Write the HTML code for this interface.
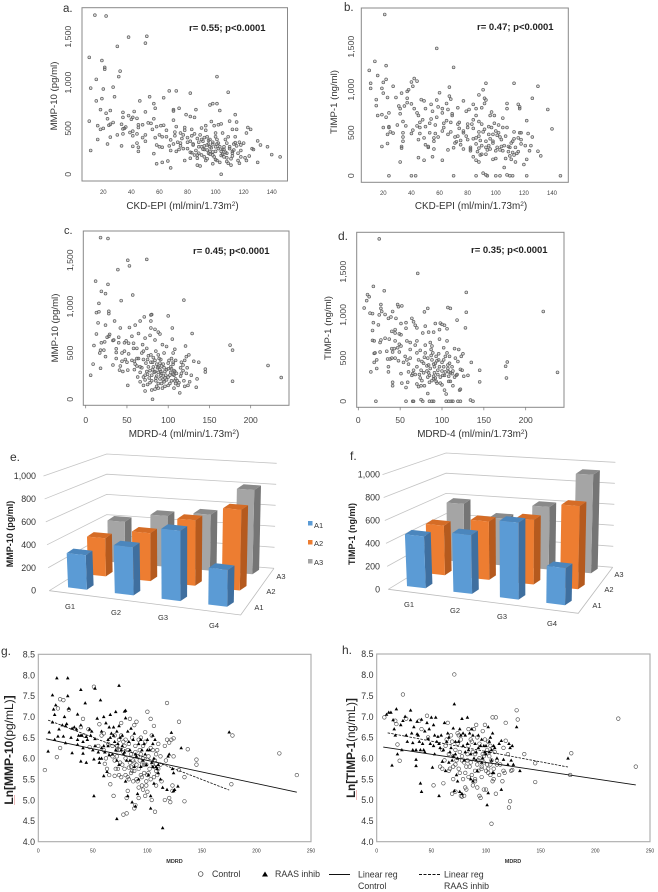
<!DOCTYPE html>
<html lang="en">
<head>
<meta charset="utf-8">
<title>MMP-10 and TIMP-1 versus kidney function</title>
<style>
html,body{margin:0;padding:0;background:#fff;width:658px;height:892px;overflow:hidden}
svg{display:block;font-family:"Liberation Sans",sans-serif}
.soft{filter:blur(0.35px)}
</style>
</head>
<body>
<svg id="figure" width="658" height="892" viewBox="0 0 658 892" xmlns="http://www.w3.org/2000/svg">
<rect width="658" height="892" fill="#fff"/>
<g id="marks" class="soft"></g>
<g class="soft" fill="#333">
<text x="63" y="12" font-size="11.5">a.</text>
<text x="344" y="11" font-size="11.5">b.</text>
<text x="64" y="234" font-size="11">c.</text>
<text x="338" y="240" font-size="12">d.</text>
<text x="10" y="461" font-size="12">e.</text>
<text x="350" y="460" font-size="12">f.</text>
<text x="1" y="655" font-size="12">g.</text>
<text x="342" y="654" font-size="12">h.</text>

<text x="189" y="31" font-size="9.5" font-weight="bold" fill="#222">r= 0.55; p&lt;0.0001</text>
<text x="477" y="30" font-size="9.5" font-weight="bold" fill="#222">r= 0.47; p&lt;0.0001</text>
<text x="193" y="254" font-size="9.5" font-weight="bold" fill="#222">r= 0.45; p&lt;0.0001</text>
<text x="471" y="253" font-size="9.5" font-weight="bold" fill="#222">r= 0.35; p&lt;0.0001</text>

<text x="182.5" y="209" font-size="9.9" text-anchor="middle">CKD-EPI (ml/min/1.73m<tspan dy="-3" font-size="6.5">2</tspan><tspan dy="3">)</tspan></text>
<text x="471" y="209" font-size="9.9" text-anchor="middle">CKD-EPI (ml/min/1.73m<tspan dy="-3" font-size="6.5">2</tspan><tspan dy="3">)</tspan></text>
<text x="184" y="437" font-size="9.9" text-anchor="middle">MDRD-4 (ml/min/1.73m<tspan dy="-3" font-size="6.5">2</tspan><tspan dy="3">)</tspan></text>
<text x="472.5" y="437" font-size="9.9" text-anchor="middle">MDRD-4 (ml/min/1.73m<tspan dy="-3" font-size="6.5">2</tspan><tspan dy="3">)</tspan></text>

<text transform="translate(57,96) rotate(-90)" font-size="9.6" text-anchor="middle">MMP-10 (pg/ml)</text>
<text transform="translate(337,102) rotate(-90)" font-size="9.6" text-anchor="middle">TIMP-1 (ng/ml)</text>
<text transform="translate(58,328) rotate(-90)" font-size="9.6" text-anchor="middle">MMP-10 (pg/ml)</text>
<text transform="translate(331,328) rotate(-90)" font-size="9.6" text-anchor="middle">TIMP-1 (ng/ml)</text>

<text transform="translate(13,534) rotate(-90)" font-size="9" font-weight="bold" text-anchor="middle" fill="#222">MMP-10 (pg/ml)</text>
<text transform="translate(355,534) rotate(-90)" font-size="9" font-weight="bold" text-anchor="middle" fill="#222">TIMP-1 (ng/ml)</text>

<text x="70" y="609" font-size="7.5" text-anchor="middle">G1</text>
<text x="116" y="615" font-size="7.5" text-anchor="middle">G2</text>
<text x="163" y="620" font-size="7.5" text-anchor="middle">G3</text>
<text x="214" y="628" font-size="7.5" text-anchor="middle">G4</text>
<text x="259" y="610" font-size="7.5" text-anchor="middle">A1</text>
<text x="271" y="594" font-size="7.5" text-anchor="middle">A2</text>
<text x="281" y="579" font-size="7.5" text-anchor="middle">A3</text>

<text x="409" y="607" font-size="7.5" text-anchor="middle">G1</text>
<text x="455" y="613" font-size="7.5" text-anchor="middle">G2</text>
<text x="502" y="619" font-size="7.5" text-anchor="middle">G3</text>
<text x="552" y="626" font-size="7.5" text-anchor="middle">G4</text>
<text x="597" y="608" font-size="7.5" text-anchor="middle">A1</text>
<text x="609" y="592" font-size="7.5" text-anchor="middle">A2</text>
<text x="619" y="577" font-size="7.5" text-anchor="middle">A3</text>

<rect x="308" y="521" width="4.5" height="4.5" fill="#5b9bd5"/>
<text x="314" y="528" font-size="7.5">A1</text>
<rect x="308" y="540" width="4.5" height="4.5" fill="#ed7d31"/>
<text x="314" y="546" font-size="7.5">A2</text>
<rect x="308" y="559" width="4.5" height="4.5" fill="#a5a5a5"/>
<text x="314" y="565" font-size="7.5">A3</text>

<text x="174.5" y="863" font-size="5.5" font-weight="bold" text-anchor="middle">MDRD</text>
<text x="513" y="863" font-size="5.5" font-weight="bold" text-anchor="middle">MDRD</text>
<text transform="translate(13,750) rotate(-90)" font-size="12" text-anchor="middle" fill="#222"><tspan font-weight="bold">Ln[MMP-10</tspan>(pg/mL)<tspan font-weight="bold">]</tspan></text>
<text transform="translate(355,748) rotate(-90)" font-size="11.6" text-anchor="middle" fill="#222"><tspan font-weight="bold">Ln[TIMP-1</tspan>(ng/mL)<tspan font-weight="bold">]</tspan></text>
<line x1="14.5" y1="795" x2="14.5" y2="805" stroke="#e9a0a0" stroke-width="0.7"/>
<line x1="356.5" y1="790" x2="356.5" y2="800" stroke="#e9a0a0" stroke-width="0.7"/>

<circle cx="200.7" cy="874" r="2.3" fill="none" stroke="#333" stroke-width="0.7"/>
<text x="212" y="877" font-size="8.8">Control</text>
<polygon points="265,871.5 268,876.5 262,876.5" fill="#000"/>
<text x="275" y="877" font-size="8.8">RAAS inhib</text>
<line x1="329" y1="874.5" x2="350" y2="874.5" stroke="#111" stroke-width="1"/>
<text x="358" y="877.5" font-size="8.8">Linear reg</text>
<text x="358" y="889" font-size="8.8">Control</text>
<line x1="419" y1="874.5" x2="440" y2="874.5" stroke="#111" stroke-width="1" stroke-dasharray="3 1.5"/>
<text x="444" y="877.5" font-size="8.8">Linear reg</text>
<text x="444" y="889" font-size="8.8">RAAS inhib</text>
</g>
</svg>
<script>
// ---- tick labels ----
const ckdTicks = [20,40,60,80,100,120,140];
const mdrdTicks = [0,50,100,150,200];
const conc1500Ticks = [0,500,1000,1500];
const concBarTicks = [0,200,400,600,800,1000];
const lnTicks = [4.0,4.5,5.0,5.5,6.0,6.5,7.0,7.5,8.0,8.5];
const mdrdLnTicks = [0,50,100,150,200,250];

// ---- panel a ----
const aCkd = [14,22,38,51,50,30,10,19,21,21,32,31,15,11,20,27,28,19,15,101,
109,67,72,82,63,53,46,56,96,98,101,86,103,114,70,70,74,18,25,10,
11,16,23,33,25,30,33,16,18,20,23,22,27,24,25,34,34,38,41,42,
44,40,45,45,41,36,34,41,44,48,50,45,45,41,34,39,50,52,50,54,
56,57,58,61,63,60,57,56,58,62,66,68,68,62,60,65,67,70,72,75,
71,75,70,72,78,78,80,79,80,77,78,82,85,83,85,87,82,83,85,87,
87,89,82,90,93,93,92,95,90,92,94,96,97,99,98,100,102,100,101,100,
98,98,101,103,104,105,107,106,105,108,109,111,104,110,112,113,114,115,115,116,
118,117,120,118,122,122,123,125,124,126,127,130,132,130,137,140,146,110,108,96,
94,88,76,74,95,102,105,112,106,91,84,88,92,96,100,104,108,112,90,94,98,
80,82,84,86,88,90,92,94,96,98,100,102,104,106,108,110,112,114,116,118,
83,87,91,95,99,103,107,111,115,89,93,97,101,105,109,113,117,121,75,77,
65,68,71,73,55,58,62,48,44,35];
const aMmp = [1735,1725,1495,1505,1430,1395,1275,1240,1165,1145,1125,1065,1035,940,930,950,845,825,800,1065,
895,910,910,885,835,845,800,770,755,770,770,705,695,650,705,690,720,705,695,580,
260,380,330,310,405,430,545,530,490,500,605,665,565,535,545,675,620,640,620,685,
610,600,540,510,470,515,495,420,440,400,360,295,250,305,440,455,430,560,680,555,
605,720,520,530,535,430,400,225,115,130,145,70,260,295,300,410,310,330,250,340,
460,450,590,520,510,480,400,650,350,280,150,630,620,490,440,390,360,235,210,175,
100,90,175,505,530,480,400,370,300,190,265,250,575,530,330,410,540,450,330,250,
210,115,150,130,0,450,380,300,220,180,120,100,550,580,490,330,410,490,570,230,
190,120,340,320,150,450,510,490,200,280,270,365,320,130,300,215,190,280,340,300,
410,300,390,270,230,280,270,200,190,360,330,230,270,220,300,250,230,250,380,320,350,
280,240,320,260,350,210,310,170,380,245,160,340,205,270,140,300,230,345,150,260,
420,210,275,330,190,300,240,170,310,430,150,290,380,220,410,265,350,180,310,430,
480,375,420,350,490,320,410,540,340,500];

// ---- panel b ----
const bCkd = [21,58,14,22,10,70,16,22,11,11,20,19,20,15,15,27,23,29,33,37,
38,40,41,42,44,37,37,40,42,31,32,32,24,16,19,22,20,24,24,25,
27,23,23,19,30,34,36,34,34,34,33,33,32,24,40,43,45,40,41,44,
45,46,46,46,45,47,49,50,50,49,50,49,52,52,54,54,53,53,56,56,
56,55,58,57,57,59,59,60,62,62,63,63,62,65,66,67,67,68,66,66,
68,69,69,70,70,71,72,73,73,74,74,75,77,77,77,79,79,80,80,81,
82,82,84,84,84,84,86,86,86,86,88,88,88,88,88,89,90,90,91,92,
92,93,93,93,93,91,93,94,86,95,96,96,97,98,98,99,100,100,100,103,
102,103,104,105,106,107,108,108,108,109,110,111,112,113,113,113,114,116,116,117,
117,118,120,122,122,123,124,126,126,130,130,132,137,140,146,118,105,101,95,90,
98,110,112,122,125,
80,82,84,86,88,90,92,94,96,98,100,102,104,106,108,110,112,114,116,118,
83,87,91,95,99,103,107,111,115,89,93,97,101,105,109,113,117,121,75,77,
65,68,71,73,55,58,62,48,44,35];
const bTimp = [1875,1480,1330,1280,1225,1260,1165,1120,1075,1015,1085,1015,960,885,815,1040,910,910,960,980,
1000,1090,1040,1130,1100,900,850,835,780,810,780,720,730,700,710,680,560,560,570,510,
495,480,375,340,590,630,580,500,450,400,340,320,160,0,0,0,210,490,530,580,
700,620,560,490,420,885,870,780,570,440,360,180,330,340,830,660,610,500,440,400,
310,220,880,590,490,800,450,965,780,730,610,560,180,840,300,925,1030,890,480,770,
620,700,720,325,0,450,395,460,790,620,550,360,870,500,310,750,460,560,600,770,
330,290,830,650,430,220,780,700,440,180,940,630,510,320,160,240,600,790,1000,840,
900,1075,880,400,250,30,10,0,0,570,700,310,740,480,400,700,200,520,0,0,
590,450,340,670,95,200,840,780,10,280,0,190,0,1075,510,430,160,830,280,800,
780,420,130,640,0,490,290,900,450,1040,285,230,770,545,0,500,560,330,480,350,
190,330,270,190,350,
420,310,550,370,460,250,540,300,430,380,290,500,420,350,560,230,400,330,440,370,
600,280,510,350,610,300,460,380,260,410,330,560,470,290,340,240,500,350,410,520,
640,510,380,600,750,680,520,650,730,810];

// ---- panel c ----
const cMdrd = [18,27,51,74,53,39,12,27,19,24,57,43,119,16,13,16,28,28,35,15,
24,100,80,79,79,71,66,60,53,42,13,29,105,129,79,84,88,90,105,121,
175,178,178,221,237,10,6,9,17,18,19,23,22,24,28,26,18,33,34,33,
37,37,37,40,40,42,41,44,45,47,47,49,50,51,51,52,52,56,58,58,
59,59,62,62,63,64,66,66,69,70,70,72,72,72,74,75,77,78,80,80,
81,81,81,84,84,85,86,88,88,88,90,91,92,93,94,95,95,96,98,100,
100,100,103,104,106,106,107,107,108,109,109,111,114,115,116,118,119,120,120,122,
123,124,125,126,128,131,134,135,137,145,145,92,84,76,68,90,86,98,104,78,
75,94,88,70,102,108,96,82,91,85,106,79,
60,64,68,72,76,80,84,88,92,96,100,104,108,112,116,66,70,74,78,82,
86,90,94,98,102,106,110,62,73,79,85,91,97,103,109,115,122,56,48,44,
75,83,89,95,101,107,113,118,93,87];
const cMmp = [1745,1735,1500,1510,1440,1400,1275,1240,1165,1140,1125,1065,1070,1035,935,945,950,925,845,825,
800,900,915,910,845,890,845,800,775,770,705,700,770,710,770,755,725,705,650,575,
585,530,195,365,235,580,260,380,500,530,610,620,530,460,680,670,335,635,640,370,
440,505,545,610,670,360,315,410,300,520,610,630,400,315,150,605,490,680,605,550,
410,320,360,550,240,710,350,190,590,430,150,260,90,660,550,430,230,690,100,200,
400,320,0,110,640,520,380,480,290,120,220,430,170,590,250,500,340,140,570,390,
240,150,290,440,500,380,120,260,540,420,170,200,70,340,280,310,200,140,420,460,
340,150,480,190,260,410,130,220,400,325,295,280,300,350,340,320,250,210,330,310,
270,380,350,240,260,200,300,450,260,200,270,400,
380,440,500,210,470,260,420,170,360,230,330,200,300,150,400,290,520,300,180,350,
140,390,210,320,170,400,280,440,390,480,230,300,260,350,220,250,280,420,430,500,
160,290,440,190,420,310,180,370,120,340];

// ---- panel d ----
const dMdrd = [25,71,18,31,129,221,11,13,10,7,14,17,27,27,28,32,25,41,47,48,
52,79,83,107,110,129,118,128,18,24,36,39,45,51,57,57,64,66,68,70,
17,17,19,80,92,98,100,103,106,97,40,44,44,49,51,58,62,70,77,84,
90,26,27,32,37,19,20,26,34,40,41,43,47,49,51,49,22,19,35,38,
40,44,15,22,36,36,41,41,52,57,59,21,57,65,66,75,77,83,85,88,
90,105,105,108,111,113,119,122,134,137,51,54,58,60,62,65,68,70,72,75,
76,79,80,82,83,85,87,88,90,91,93,94,96,97,98,100,102,102,103,106,
107,108,109,110,112,113,115,117,119,120,121,122,123,124,125,126,131,135,145,145,
176,178,177,238,74,86,92,88,95,78,104,70,100,84,90,108,
60,64,68,72,76,80,84,88,92,96,100,104,108,112,116,66,70,74,78,82,
86,90,94,98,102,106,110,62,73,79,85,91,97,103,109,115,122,56,48,44,
75,83,89,95,101,107,113,118,93,87];
const dTimp = [1880,1480,1330,1280,1260,1040,1235,1210,1165,1080,1020,1015,1120,1075,1040,1005,1000,1040,1120,1095,
1105,1035,1075,1085,1075,1030,940,850,910,885,960,975,960,900,910,845,960,920,880,850,
820,705,700,870,900,905,890,880,840,830,810,790,830,780,770,700,680,700,790,800,
800,680,710,730,720,555,560,570,580,610,570,610,620,660,640,570,480,450,490,490,
500,500,340,380,400,340,220,180,210,160,220,0,0,0,0,20,0,90,0,0,
0,85,0,0,0,0,0,0,15,0,320,450,480,340,500,320,310,560,170,360,
460,180,650,410,500,300,600,240,430,330,520,210,550,400,280,190,620,480,130,700,
380,290,520,230,400,180,610,300,460,600,130,140,520,360,550,290,300,450,360,225,
405,455,270,335,270,380,440,480,310,330,340,400,450,420,260,340,
430,300,650,480,240,560,330,640,270,480,350,520,230,320,500,360,200,590,440,350,
680,290,470,210,400,560,330,600,310,510,220,400,720,300,440,280,370,520,470,700,
180,280,560,360,300,420,350,310,230,530];

// ---- panel e / f bar values (rows A1, A2, A3; columns G1..G4) ----
const barCategories = ['G1','G2','G3','G4'];
const barSeries = ['A1','A2','A3'];
const mmpA1 = [303,418,605,313];
const mmpA2 = [350,436,590,719];
const mmpA3 = [397,485,528,788];
const timpA1 = [456,512,662,315];
const timpA2 = [455,530,582,740];
const timpA3 = [560,448,590,920];

// ---- panel g ----
const gControlX = [6,17,20,18,20,23,28,41,39,42,46,47,51,56,58,60,61,63,66,69,
70,71,72,74,76,78,78,81,81,82,83,84,85,87,88,88,89,90,91,92,
92,94,95,96,98,98,99,100,100,103,104,105,106,107,108,109,112,116,116,118,
118,120,120,121,122,123,123,124,124,129,129,134,134,137,145,145,177,178,221,237,
66,68,72,75,77,79,80,82,84,85,87,88,90,91,92,93,94,95,96,97,
99,100,101,102,103,105,106,107,108,109,55,60,64,68,70,74,76,80,83,86,
89,92,96,110,113,117,
62,65,70,73,76,78,80,83,85,88,90,93,95,97,99,101,103,106,108,110,
112,72,74,79,82,86,89,94,98,104];
const gControlY = [5.72,6.03,6.25,7.2,7.42,7.4,7.17,6.95,6.75,6.55,6.7,6.27,7.72,6.82,6.55,6.6,5.87,5.75,5.38,5.1,
5.58,5.75,6.3,5.6,6.85,6.4,4.65,4.68,5.05,5.22,5.78,6.95,5.65,5.45,6.8,4.8,4.88,6.88,5.45,5.3,
5.05,6.5,5.35,5.25,5.1,6.63,5.45,7.12,5.2,6.95,5.0,6.2,6.78,4.72,5.35,6.2,6.05,5.0,6.3,7.33,
6.45,6.38,5.05,4.95,6.45,5.35,5.22,6.05,6.48,6.88,5.72,4.97,5.55,6.22,5.97,5.85,5.38,6.55,6.12,5.6,
6.1,6.05,6.05,5.9,5.85,5.75,6.0,6.2,5.9,6.1,5.95,5.7,5.85,6.05,5.75,6.2,5.6,5.85,6.0,5.65,
5.85,5.6,6.05,5.75,5.5,5.85,5.55,5.95,5.7,5.6,6.3,6.2,6.35,6.3,6.55,6.2,6.55,6.45,6.35,6.5,
6.3,6.45,6.3,5.75,5.45,5.95,
6.0,5.6,5.95,5.75,5.55,6.15,5.6,5.5,5.8,5.9,5.5,5.95,5.55,5.85,5.35,5.65,6.25,5.8,6.1,6.35,
5.85,6.2,6.45,6.3,5.55,5.7,6.15,6.1,6.4,6.55];
const gRaasX = [17,27,39,74,52,13,27,57,43,16,28,14,15,36,24,54,60,66,71,79,
80,80,13,26,25,39,10,19,18,23,15,9,25,31,33,37,36,39,41,44,
47,49,52,36,41,41,31,39,44,50,51,56,56,58,58,62,64,65,69,72,
74,60,63,65,68,72,74,78,80,81,82,84,85,86,88,88,89,91,92,94,
96,98,100,100,101,103,103,105,105,106,106,108,109,112,114,114,118,119,120,122,
123,124,124,125,128,131,175,72,51,70,76,83,90,95,104,110,77,66,60,
35,40,45,48,52,55,58,61,64,67,69,71,73,75,77,79,82,84,87,89,
92,94,97,99,102,105,107,110,22,30];
const gRaasY = [7.93,7.93,7.65,7.75,7.68,7.52,7.5,7.4,7.33,7.28,7.2,7.18,7.05,7.06,7.0,6.96,7.0,7.05,7.12,7.13,
7.15,6.97,6.87,6.83,6.78,6.8,6.63,6.7,6.53,6.53,6.45,6.17,6.37,6.72,6.75,6.55,6.45,6.55,6.4,6.52,
6.7,6.65,6.47,6.33,6.25,6.12,6.13,5.93,5.9,6.2,5.98,5.9,6.0,6.25,6.65,6.85,6.45,6.75,6.75,6.65,
6.78,5.58,5.68,6.08,6.1,5.95,5.85,6.1,5.45,5.95,5.1,6.2,6.72,4.95,6.6,5.8,4.85,5.15,5.5,6.45,
5.95,6.1,6.2,6.45,5.6,5.1,4.8,6.55,6.35,6.0,5.4,5.8,5.75,5.5,5.3,4.33,5.25,6.05,6.1,6.62,
5.75,5.65,5.22,5.25,5.33,6.25,6.63,4.55,5.1,6.4,6.2,6.4,6.05,6.2,5.9,5.65,6.55,6.5,6.3,
6.7,6.55,6.45,6.55,6.3,6.15,6.0,6.15,6.3,6.6,6.55,6.2,6.35,6.5,6.3,6.15,6.65,5.95,6.45,6.1,
6.35,5.8,6.35,5.85,6.2,5.8,6.45,5.85,6.8,6.5];
const gControlFitX = [7,237];
const gControlFitY = [6.47,5.19];
const gRaasFitX = [9,175];
const gRaasFitY = [6.92,5.24];

// ---- panel h ----
const hControlX = [7,17,18,19,21,24,27,39,41,46,47,52,61,58,60,62,65,67,69,71,
72,72,74,75,76,77,78,79,80,81,82,83,84,85,87,88,89,90,91,92,
93,94,95,96,97,98,99,100,101,102,103,104,105,106,106,106,107,109,109,110,
113,115,116,117,118,118,120,121,122,123,124,128,129,135,145,145,177,178,221,237,
66,70,73,77,80,83,86,88,90,92,94,96,98,100,102,104,68,76,84,92,
97,107,112,70,
63,66,69,72,75,78,81,84,87,90,93,96,99,102,105,108,70,74,78,82,
86,90,94,98,101,104,60,64,110,116];
const hControlY = [6.98,6.9,6.82,6.33,5.94,7.53,6.95,6.9,6.7,7.02,6.5,5.35,5.4,5.8,5.75,5.95,6.85,5.75,5.15,8.01,
5.2,6.2,6.35,5.75,6.15,5.1,5.08,5.5,5.1,5.3,5.25,5.95,6.7,5.8,6.4,5.35,6.7,5.7,6.8,5.3,
5.7,5.1,5.05,5.55,6.65,5.25,6.8,5.25,6.2,5.75,6.05,5.6,4.43,6.25,5.45,6.98,5.5,6.98,5.15,5.95,
5.85,5.45,5.7,5.65,6.42,6.85,6.1,4.82,4.97,5.7,5.72,7.15,6.93,6.1,5.88,5.43,5.6,6.12,6.95,5.8,
6.1,5.8,5.95,6.45,5.9,6.1,5.9,6.15,5.5,5.85,6.0,5.75,5.9,5.7,6.4,5.85,6.55,5.65,5.55,6.5,
6.1,5.75,5.6,5.5,
6.3,5.7,6.4,5.85,6.55,6.05,5.65,6.3,5.6,6.1,5.95,5.8,6.45,5.65,5.95,6.15,6.05,6.6,5.95,5.8,
6.45,5.45,6.35,6.05,5.85,6.3,6.2,6.45,5.85,6.25];
const hRaasX = [14,18,9,11,13,15,16,17,19,23,22,24,26,27,31,31,32,33,33,36,
36,36,37,37,39,40,40,41,41,42,43,44,46,47,49,50,51,52,53,54,
55,56,57,58,59,60,62,63,64,66,67,69,70,71,71,72,73,74,75,76,
77,78,78,79,80,81,83,84,85,86,87,88,89,90,91,92,93,95,96,97,
99,100,101,102,102,103,104,105,106,106,107,108,112,114,114,116,120,121,122,123,
124,125,128,131,175,
38,44,48,53,57,61,65,68,72,74,76,79,81,83,86,88,91,93,96,98,
100,103,105,107,110,66,70,52,28,34];
const hRaasY = [5.83,7.18,7.05,7.1,7.1,6.92,6.7,6.55,6.1,6.2,6.8,6.9,7.0,6.55,7.15,6.92,6.6,6.2,6.37,5.97,
5.82,6.2,6.58,6.88,6.4,6.2,5.4,5.2,6.93,6.35,6.2,6.65,6.85,6.47,6.35,6.98,5.78,6.8,6.1,6.98,
6.4,6.52,5.1,6.25,6.55,5.92,6.85,5.7,6.4,6.5,6.15,5.95,6.72,7.3,5.22,6.1,5.6,5.45,6.4,5.2,
6.55,6.95,5.15,6.3,5.95,6.55,6.98,6.2,6.6,5.5,6.7,5.45,6.0,6.35,6.15,5.7,6.55,6.3,6.45,6.0,
6.15,6.3,4.88,5.17,6.75,6.15,6.5,5.95,6.6,5.65,5.65,6.25,6.35,5.25,6.42,5.97,5.85,6.35,6.25,5.95,
6.3,5.85,6.75,5.7,6.0,
6.55,6.15,6.7,6.55,6.35,6.2,6.6,6.25,6.4,6.0,6.7,6.6,6.15,6.35,6.1,6.55,5.95,6.25,5.9,6.3,
6.1,6.4,6.2,6.3,6.0,5.9,6.05,6.3,6.4,6.75];
const hControlFitX = [6,237];
const hControlFitY = [6.27,5.36];
const hRaasFitX = [10,175];
const hRaasFitY = [6.61,5.79];

// ---- drawing ----
const NS = 'http://www.w3.org/2000/svg';
const root = document.getElementById('marks');

function make(tag, attrs, parent) {
  const el = document.createElementNS(NS, tag);
  for (const k in attrs) el.setAttribute(k, attrs[k]);
  (parent || root).appendChild(el);
  return el;
}
function linear(d0, d1, r0, r1) {
  return v => r0 + (v - d0) * (r1 - r0) / (d1 - d0);
}
function fmt(v) {
  return v >= 1000 ? String(v).replace(/(\d)(\d{3})$/, '$1,$2') : String(v);
}

function drawScatterBox(id, box, sx, sy, xTicks, yTicks, xFont, xLabelY, yLabelX, showTicks, panel) {
  const frame = make('rect', {x: box.l, y: box.t, width: box.r - box.l, height: box.b - box.t, fill: 'none', stroke: '#888', 'stroke-width': 1}, panel);
  
  
  xTicks.forEach(t => {
    if (showTicks) {
      const tick = make('line', {x1: sx(t), x2: sx(t), y1: box.b, y2: box.b + 3, stroke: '#777', 'stroke-width': 0.7}, panel);
      
      
    }
    const label = make('text', {x: sx(t), y: xLabelY, 'text-anchor': 'middle', 'font-size': xFont, fill: '#444'}, panel);
    
    
    label.textContent = t;
  });
  yTicks.forEach(t => {
    const label = make('text', {transform: 'translate(' + yLabelX + ',' + sy(t) + ') rotate(-90)', 'text-anchor': 'middle', 'font-size': 8.7, fill: '#444'}, panel);
    
    
    label.textContent = fmt(t);
  });
}
function drawSoftPoints(id, xs, ys, sx, sy, panel) {
  const n = Math.min(xs.length, ys.length);
  for (let i = 0; i < n; i++) {
    const pt = make('circle', {cx: sx(xs[i]), cy: sy(ys[i]), r: 1.4, fill: 'rgba(150,150,150,0.35)', stroke: '#5f5f5f', 'stroke-width': 0.7}, panel);
    
    
  }
}

function scatterPanel(id, box, xd, xr, yd, yr, xs, ys, xTicks, yTicks, opts) {
  const panel = make('g', {});
  
  
  const sx = linear(xd[0], xd[1], xr[0], xr[1]);
  const sy = linear(yd[0], yd[1], yr[0], yr[1]);
  drawScatterBox(id, box, sx, sy, xTicks, yTicks, opts.xFont, opts.xLabelY, opts.yLabelX, opts.ticks, panel);
  drawSoftPoints(id, xs, ys, sx, sy, panel);
}

scatterPanel('panel-a', {l: 82, r: 287.5, t: 7.7, b: 181}, [20,140], [103.3,271.7], [0,1500], [174.3,36.7], aCkd, aMmp, ckdTicks, conc1500Ticks, {xFont: 6, xLabelY: 194, yLabelX: 71, ticks: false});
scatterPanel('panel-b', {l: 361.3, r: 568.3, t: 8, b: 182.3}, [20,140], [383.3,552], [0,1500], [175.7,46.7], bCkd, bTimp, ckdTicks, conc1500Ticks, {xFont: 6, xLabelY: 195, yLabelX: 354, ticks: false});
scatterPanel('panel-c', {l: 83.3, r: 289, t: 231, b: 405.3}, [0,200], [85.7,250.7], [0,1500], [399.3,260.3], cMdrd, cMmp, mdrdTicks, conc1500Ticks, {xFont: 8.5, xLabelY: 423, yLabelX: 73, ticks: true});
scatterPanel('panel-d', {l: 356.7, r: 564, t: 232.3, b: 407.3}, [0,200], [358.3,525.7], [0,1500], [401.3,271.7], dMdrd, dTimp, mdrdTicks, conc1500Ticks, {xFont: 8.5, xLabelY: 423, yLabelX: 346, ticks: true});

// 3D bars: floor corners and per-value height vectors, interpolated across the floor
function barPanel(id, geom, ticks, rows) {
  const panel = make('g', {});
  
  
  const mix = (a, b, c, d, u, v) => (a * (1 - u) + b * u) * (1 - v) + (d * (1 - u) + c * u) * v;
  const project = (u, v, h) => {
    const x = mix(geom.fl[0], geom.fr[0], geom.br[0], geom.bl[0], u, v);
    const y = mix(geom.fl[1], geom.fr[1], geom.br[1], geom.bl[1], u, v);
    const dx = mix(-0.0058, 0.003, 0.0027, 0, u, v);
    const dy = mix(0.1147, 0.12, 0.105, 0.101, u, v);
    return [x + dx * h, y - dy * h];
  };
  const poly = (pts, fill, name) => {
    const shape = make('polygon', {points: pts.map(p => p[0].toFixed(1) + ',' + p[1].toFixed(1)).join(' '), fill: fill}, panel);
    
    
  };
  ticks.forEach(t => {
    const a = project(0, 0, t), b = project(0, 1, t), c = project(1, 1, t);
    const grid = make('polyline', {points: [a, b, c].map(p => p.join(',')).join(' '), fill: 'none', stroke: '#c4c4c4', 'stroke-width': 0.8}, panel);
    
    
    const label = make('text', {x: geom.labelX, y: a[1] + 3, 'text-anchor': 'end', 'font-size': 8.9, fill: '#333'}, panel);
    
    
    label.textContent = fmt(t);
  });
  const floor = make('polyline', {points: [project(0,0,0), project(1,0,0), project(1,1,0)].map(p => p.join(',')).join(' '), fill: 'none', stroke: '#bbb', 'stroke-width': 0.8}, panel);
  
  
  const palette = [
    {front: '#5b9bd5', side: '#3f6f9f', top: '#4b86bd'},
    {front: '#ed7d31', side: '#b55a1e', top: '#d56c26'},
    {front: '#a5a5a5', side: '#757575', top: '#8a8a8a'}
  ];
  const depth = [6.7, -4.5];
  for (let j = rows.length - 1; j >= 0; j--) {
    const v = 0.13 + j * 0.355;
    const row = rows[j];
    row.forEach((value, i) => {
      const u0 = 0.06 + i * 0.2483, u1 = u0 + 0.1;
      const a = project(u0, v, 0), b = project(u1, v, 0);
      const c = project(u1, v, value), d = project(u0, v, value);
      const off = p => [p[0] + depth[0], p[1] + depth[1]];
      const name = id + '-bar-' + barCategories[i] + '-' + barSeries[j];
      poly([b, off(b), off(c), c], palette[j].side, name + '-side');
      poly([d, c, off(c), off(d)], palette[j].top, name + '-top');
      poly([a, b, c, d], palette[j].front, name + '-front');
    });
  }
}
barPanel('panel-e', {fl: [49.3,590.7], fr: [240.7,615], br: [274,568.3], bl: [106.7,555], labelX: 36}, concBarTicks, [mmpA1, mmpA2, mmpA3]);
barPanel('panel-f', {fl: [388.3,589.3], fr: [578.3,613.3], br: [612.7,567.3], bl: [446,554], labelX: 380}, concBarTicks, [timpA1, timpA2, timpA3]);

// Ln panels
function lnPanel(id, box, cx, cy, rx, ry, cfx, cfy, rfx, rfy, labelX) {
  const panel = make('g', {});
  
  
  const sx = linear(0, 250, box.l, box.r);
  const sy = linear(4, 8.5, box.b, box.t);
  const frame = make('rect', {x: box.l, y: box.t, width: box.r - box.l, height: box.b - box.t, fill: 'none', stroke: '#aaa', 'stroke-width': 1.1}, panel);
  
  
  lnTicks.forEach(t => {
    const label = make('text', {x: labelX, y: sy(t) + 3.2, 'text-anchor': 'end', 'font-size': 8.8, fill: '#333'}, panel);
    
    
    label.textContent = t.toFixed(1);
  });
  mdrdLnTicks.forEach(t => {
    const label = make('text', {x: sx(t), y: 852.5, 'text-anchor': 'middle', 'font-size': 5, fill: '#333'}, panel);
    
    
    label.textContent = t;
  });
  for (let i = 0; i < Math.min(cx.length, cy.length); i++) {
    const c = make('circle', {cx: sx(cx[i]), cy: sy(cy[i]), r: 1.8, fill: 'none', stroke: '#444', 'stroke-width': 0.6}, panel);
    
    
  }
  for (let i = 0; i < Math.min(rx.length, ry.length); i++) {
    const x = sx(rx[i]), y = sy(ry[i]);
    const tri = make('polygon', {points: x + ',' + (y - 1.9) + ' ' + (x + 1.8) + ',' + (y + 1.3) + ' ' + (x - 1.8) + ',' + (y + 1.3), fill: '#000'}, panel);
    
    
  }
  const fit1 = make('line', {x1: sx(cfx[0]), y1: sy(cfy[0]), x2: sx(cfx[1]), y2: sy(cfy[1]), stroke: '#111', 'stroke-width': 0.9}, panel);
  
  
  const fit2 = make('line', {x1: sx(rfx[0]), y1: sy(rfy[0]), x2: sx(rfx[1]), y2: sy(rfy[1]), stroke: '#111', 'stroke-width': 0.8, 'stroke-dasharray': '2.5 1.2'}, panel);
  
  
}
lnPanel('panel-g', {l: 38.3, r: 311, t: 654.3, b: 841.7}, gControlX, gControlY, gRaasX, gRaasY, gControlFitX, gControlFitY, gRaasFitX, gRaasFitY, 35);
lnPanel('panel-h', {l: 376.7, r: 650, t: 654, b: 841.7}, hControlX, hControlY, hRaasX, hRaasY, hControlFitX, hControlFitY, hRaasFitX, hRaasFitY, 373.5);
</script>
</body>
</html>
